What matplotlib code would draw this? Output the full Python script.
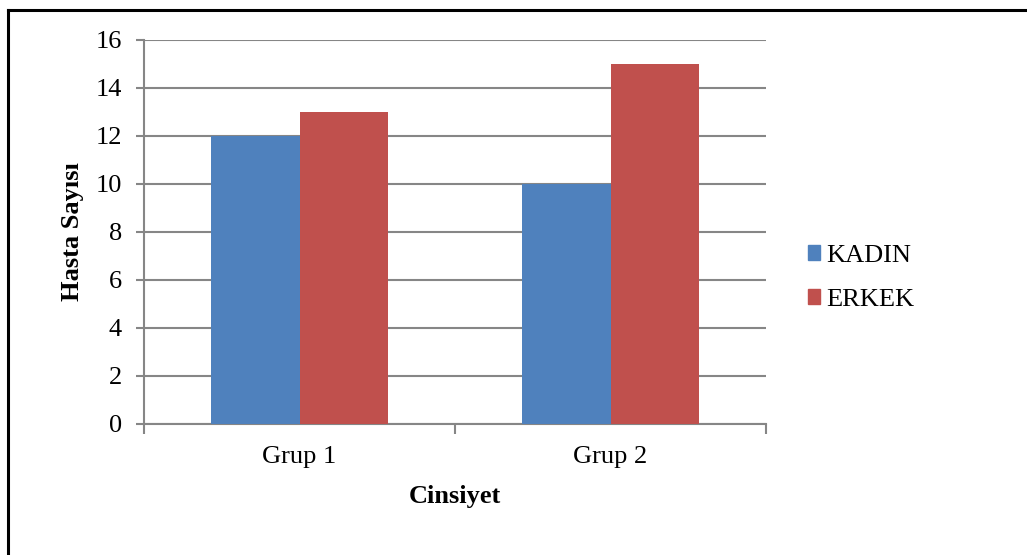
import numpy as np
import matplotlib.pyplot as plt
from matplotlib.lines import Line2D
from matplotlib.patches import Patch

groups = ["Grup 1", "Grup 2"]
kadin = [12, 10]
erkek = [13, 15]
series_names = ["KADIN", "ERKEK"]
yticks = [0, 2, 4, 6, 8, 10, 12, 14, 16]

blue = "#4F81BD"
red = "#C0504D"
gray = "#868686"

plt.rcParams["font.family"] = ["Liberation Serif", "DejaVu Serif"]

fig = plt.figure(figsize=(10.27, 5.55), dpi=100)
W, H = 1027, 555
ax = fig.add_axes([144 / W, 1 - 424 / H, (766 - 144) / W, (424 - 40) / H])

x = np.arange(len(groups))
w = 0.286
ax.bar(x - w / 2, kadin, w, color=blue, zorder=3)
ax.bar(x + w / 2, erkek, w, color=red, zorder=3)

ax.set_xlim(-0.5, len(groups) - 0.5)
ax.set_ylim(0, 16)
ax.set_yticks(yticks)
ax.tick_params(axis="y", labelsize=19, length=6, width=1.5, color=gray, pad=10)
ax.yaxis.grid(True, color=gray, linewidth=1.5, zorder=0)

# category boundaries carry the tick marks, labels sit at the centers
ax.set_xticks(np.arange(len(groups) + 1) - 0.5)
ax.set_xticklabels([])
ax.tick_params(axis="x", which="major", length=7, width=1.5, color=gray)
ax.set_xticks(x, minor=True)
ax.set_xticklabels(groups, minor=True)
ax.tick_params(axis="x", which="minor", length=0, labelsize=19, pad=16)

for s in ["top", "right"]:
    ax.spines[s].set_visible(False)
for s in ["left", "bottom"]:
    ax.spines[s].set_color(gray)
    ax.spines[s].set_linewidth(1.5)

ax.set_xlabel("Cinsiyet", fontsize=19, fontweight="bold", labelpad=12)
ax.set_ylabel("Hasta Sayısı", fontsize=19, fontweight="bold", labelpad=8)

handles = [Patch(color=blue), Patch(color=red)]
fig.legend(handles, series_names, loc="center left",
           bbox_to_anchor=(797 / W, 1 - 278 / H), frameon=False,
           fontsize=19, handlelength=0.46, handleheight=0.46,
           handletextpad=0.25, labelspacing=0.83, borderaxespad=0)

# outer chart frame
fig.add_artist(Line2D([8 / W, 1], [1 - 10 / H, 1 - 10 / H], color="black", linewidth=2.2))
fig.add_artist(Line2D([8 / W, 8 / W], [0, 1 - 10 / H], color="black", linewidth=2.2))

fig.savefig("out.png", dpi=100)
